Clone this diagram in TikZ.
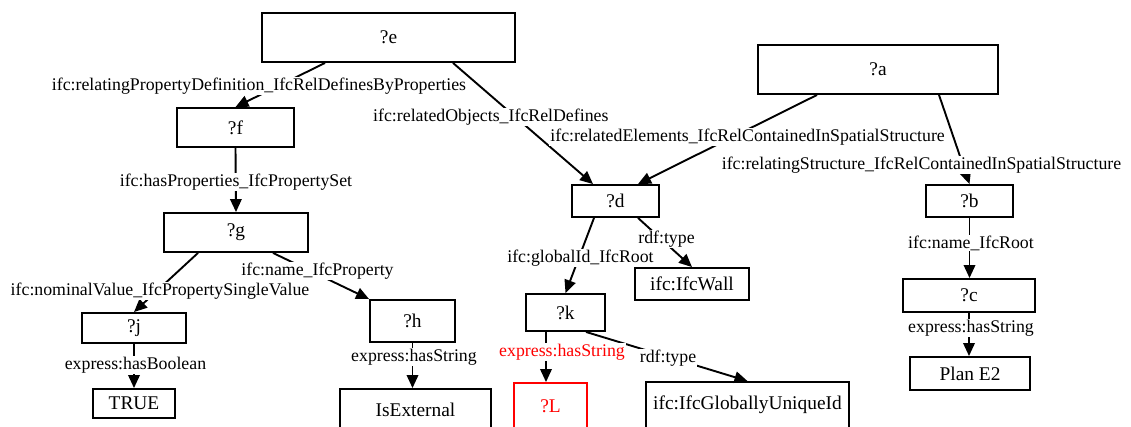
\documentclass[tikz,border=0pt]{standalone}
\usepackage{fontspec}
\setmainfont{Liberation Serif}
\usetikzlibrary{arrows.meta}
\tikzset{
  box/.style={draw, line width=1.9pt, inner sep=0pt, font=\fontsize{19.4}{22}\selectfont},
  lbl/.style={fill=white, inner sep=1pt, font=\fontsize{17.8}{20}\selectfont},
  edge/.style={line width=1.9pt, -{Triangle[length=13pt,width=11.5pt]}},
  hot/.style={draw=red, text=red},
}
\begin{document}
\begin{tikzpicture}[x=1pt,y=-1pt]
\useasboundingbox (0,0) rectangle (1131,427);
\clip (0,0) rectangle (1131,427);
\fill[white] (0,0) rectangle (1131,427);

% variable and resource nodes
\node[box, minimum width=253, minimum height=49] (e) at (388.5,37.5) {?e};
\node[box, minimum width=240, minimum height=49] (a) at (878,69.5) {?a};
\node[box, minimum width=117, minimum height=39] (f) at (235.5,127.5) {?f};
\node[box, minimum width=144, minimum height=39] (g) at (236,232.5) {?g};
\node[box, minimum width=87, minimum height=32] (d) at (615.5,201) {?d};
\node[box, minimum width=87, minimum height=32] (b) at (969.5,201) {?b};
\node[box, minimum width=104, minimum height=30] (j) at (134,328) {?j};
\node[box, minimum width=82, minimum height=29] (true) at (134,403.5) {TRUE};
\node[box, minimum width=85, minimum height=42] (h) at (412.5,321) {?h};
\node[box, minimum width=151, minimum height=42] (ext) at (415.5,410) {IsExternal};
\node[box, minimum width=114, minimum height=32] (wall) at (692,284) {ifc:IfcWall};
\node[box, minimum width=79, minimum height=37] (k) at (565.5,312.5) {?k};
\node[box, hot, minimum width=73, minimum height=46] (L) at (550.5,406) {?L};
\node[box, minimum width=203, minimum height=46] (guid) at (747.5,405) {ifc:IfcGloballyUniqueId};
\node[box, minimum width=132, minimum height=33] (c) at (969,295.5) {?c};
\node[box, minimum width=120, minimum height=33] (plan) at (970,373.5) {Plan E2};

% predicate edges
\draw[edge] ([xshift=-63.5]e.south) -- (f.north);
\draw[edge] ([xshift=64.5]e.south) -- ([xshift=-22.5]d.north);
\draw[edge] ([xshift=-61]a.south) -- ([xshift=22.5]d.north);
\draw[edge] ([xshift=61]a.south) -- (b.north);
\draw[edge] (f.south) -- (g.north);
\draw[edge] ([xshift=-38]g.south) -- (j.north);
\draw[edge] ([xshift=37]g.south) -- (h.north west);
\draw[edge] (j.south) -- (true.north);
\draw[edge] (h.south) -- (h.south |- ext.north);
\draw[edge] ([xshift=-21.5]d.south) -- (k.north);
\draw[edge] ([xshift=22.5]d.south) -- (wall.north);
\draw[edge] ([xshift=-19.5]k.south) -- ([xshift=-19.5]k.south |- L.north);
\draw[edge] ([xshift=20.5]k.south) -- (guid.north);
\draw[edge] (b.south) -- (b.south |- c.north);
\draw[edge] (c.south) -- (c.south |- plan.north);

% predicate labels
\node[lbl] (l1) at (259,86) {ifc:relatingPropertyDefinition\_IfcRelDefinesByProperties};
\node[lbl, anchor=west] (l2) at (372,117) {ifc:relatedObjects\_IfcRelDefines};
\node[lbl] (l3) at (236,182) {ifc:hasProperties\_IfcPropertySet};
\node[lbl, anchor=east] (l4) at (946,137) {ifc:relatedElements\_IfcRelContainedInSpatialStructure};
\node[lbl] (l5) at (921.5,165) {ifc:relatingStructure\_IfcRelContainedInSpatialStructure};
\node[lbl] (l6) at (160,291) {ifc:nominalValue\_IfcPropertySingleValue};
\node[lbl] (l7) at (317.5,271) {ifc:name\_IfcProperty};
\node[lbl] (l8) at (135.5,365) {express:hasBoolean};
\node[lbl] (l9) at (414,357) {express:hasString};
\node[lbl] (l10) at (580.5,258) {ifc:globalId\_IfcRoot};
\node[lbl] (l11) at (666.5,239) {rdf:type};
\node[lbl, text=red] (l12) at (562,352) {express:hasString};
\node[lbl] (l13) at (668,358) {rdf:type};
\node[lbl] (l14) at (971,243) {ifc:name\_IfcRoot};
\node[lbl] (l15) at (971,328) {express:hasString};
\end{tikzpicture}
\end{document}
